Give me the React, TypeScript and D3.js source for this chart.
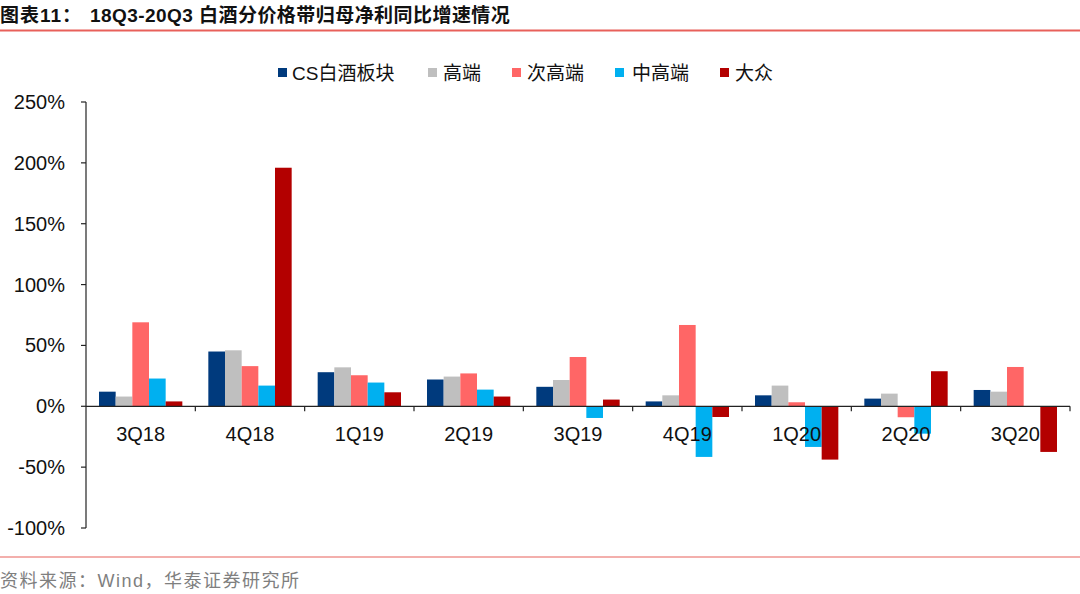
import React from "react";
import * as d3 from "d3";

const categories = ["3Q18", "4Q18", "1Q19", "2Q19", "3Q19", "4Q19", "1Q20", "2Q20", "3Q20"];
const seriesNames = ["CS白酒板块", "高端", "次高端", "中高端", "大众"];
const csBaijiu = [12, 45, 28, 22, 16, 4, 9, 6.3, 13.4];
const gaoduan = [8, 46, 32, 24.4, 21.6, 9, 17, 10.4, 12];
const cigaoduan = [69, 33, 25.5, 27, 40.5, 66.8, 3.3, -9, 32.3];
const zhonggaoduan = [22.8, 17, 19.5, 13.7, -9.6, -41.6, -33.4, -22.5, 0];
const dazhong = [4, 196, 11.5, 8, 5.5, -8.8, -43.8, 28.8, -37.5];
const yTicks = [-100, -50, 0, 50, 100, 150, 200, 250];
const colors = ["#003A7D", "#BFBFBF", "#FF6666", "#00B0F0", "#B30000"];

const series = [csBaijiu, gaoduan, cigaoduan, zhonggaoduan, dazhong];

const FONT = "'Liberation Sans', Arial, 'Noto Sans CJK SC', sans-serif";

export default function App() {
  const W = 1080, H = 594;
  const left = 86, right = 1070, top = 102, bottom = 528;
  const x = d3.scaleBand<string>().domain(categories).range([left, right]).paddingInner(0).paddingOuter(0);
  const inner = d3.scaleBand<number>().domain(d3.range(series.length)).range([0, x.bandwidth()]).paddingOuter(0.78).paddingInner(0);
  const y = d3.scaleLinear().domain([-100, 250]).range([bottom, top]);
  const y0 = y(0);

  const legendItems = [
    { sq: 278, tx: 292 },
    { sq: 428, tx: 443 },
    { sq: 512, tx: 527 },
    { sq: 615, tx: 632 },
    { sq: 720, tx: 735 },
  ];

  return (
    <div style={{ position: "absolute", left: 0, top: 0 }}>
      <svg width={W} height={H} style={{ display: "block", background: "#fff" }} fontFamily={FONT}>
        <text x={0} y={22} fontSize={19} fontWeight="bold" fill="#111" letterSpacing={1}>图表11：</text>
        <text x={90} y={22} fontSize={19} fontWeight="bold" fill="#111" letterSpacing={0.45}>18Q3-20Q3 白酒分价格带归母净利同比增速情况</text>
        <line x1={0} x2={W} y1={30.5} y2={30.5} stroke="#E8605A" strokeWidth={2} />

        {/* legend */}
        {seriesNames.map((n, i) => (
          <g key={n}>
            <rect x={legendItems[i].sq} y={68} width={9} height={9} fill={colors[i]} />
            <text x={legendItems[i].tx} y={80} fontSize={19} fill="#111">{n}</text>
          </g>
        ))}

        {/* bars */}
        {categories.map((c, ci) => (
          <g key={c} transform={`translate(${x(c)},0)`}>
            {series.map((s, si) => {
              const v = s[ci];
              if (v === 0) return null;
              const yy = y(Math.max(v, 0));
              const h = Math.abs(y(v) - y0);
              return <rect key={si} x={inner(si)} y={yy} width={inner.bandwidth()} height={h} fill={colors[si]} />;
            })}
          </g>
        ))}

        {/* y axis */}
        <line x1={left} x2={left} y1={top} y2={bottom} stroke="#222" strokeWidth={1.2} />
        {yTicks.map(t => (
          <g key={t}>
            <line x1={left - 5} x2={left} y1={y(t)} y2={y(t)} stroke="#222" strokeWidth={1.2} />
            <text x={65} y={y(t)} dy="0.35em" textAnchor="end" fontSize={20} fill="#111">{t}%</text>
          </g>
        ))}

        {/* x axis */}
        <line x1={left} x2={right} y1={y0} y2={y0} stroke="#222" strokeWidth={1.2} />
        {categories.map((c, i) => (
          <line key={c} x1={(x(c) as number) + x.bandwidth()} x2={(x(c) as number) + x.bandwidth()} y1={y0} y2={y0 + 5} stroke="#222" strokeWidth={1.2} />
        ))}
        {categories.map(c => (
          <text key={c} x={(x(c) as number) + x.bandwidth() / 2} y={441} textAnchor="middle" fontSize={20} fill="#111">{c}</text>
        ))}

        <line x1={0} x2={W} y1={557} y2={557} stroke="#E8605A" strokeWidth={1.2} />
        <text x={0} y={587} fontSize={18} fill="#7F7F7F" letterSpacing={1.5}>资料来源：Wind，华泰证券研究所</text>
      </svg>
    </div>
  );
}
